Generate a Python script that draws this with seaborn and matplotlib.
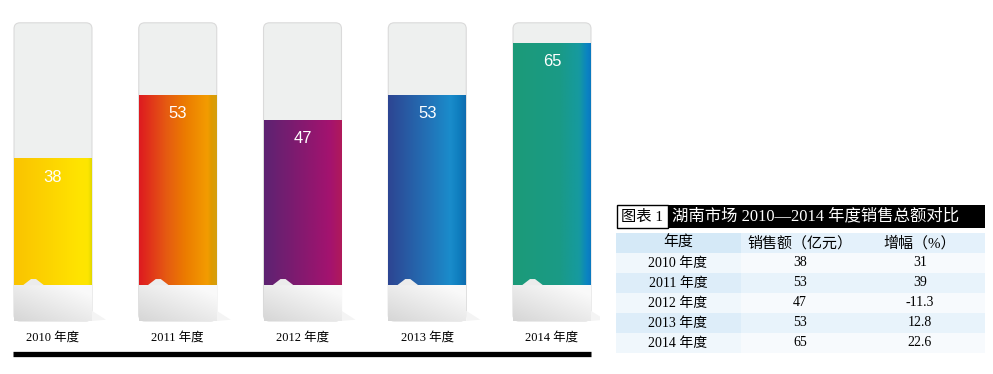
import numpy as np
import pandas as pd
import matplotlib.pyplot as plt
import seaborn as sns
from matplotlib.colors import LinearSegmentedColormap
from matplotlib.patches import FancyBboxPatch, Polygon, Rectangle

# data
years = ['2010 年度', '2011 年度', '2012 年度', '2013 年度', '2014 年度']
sales = [38, 53, 47, 53, 65]
growth = ['31', '39', '-11.3', '12.8', '22.6']
table_cols = ['年度', '销售额（亿元）', '增幅（%）']
title_tag = '图表 1'
title = '湖南市场 2010—2014 年度销售总额对比'

track_max = 70      # height of the grey "tube"
base_top = 8.4      # grey foot covers the bar up to here

# left -> right gradient of each bar
bar_stops = [
    [(0, '#fac300'), (0.5, '#fdd600'), (0.85, '#ffe400'), (0.95, '#fde600'), (1, '#e2d800')],
    [(0, '#de1a20'), (0.35, '#e55a12'), (0.6, '#ec7c00'), (0.88, '#f39c00'), (0.93, '#e09a00'), (1, '#d4a010')],
    [(0, '#5d2372'), (0.5, '#86196f'), (0.85, '#a4136f'), (1, '#b01a5a')],
    [(0, '#2d4592'), (0.5, '#2370b5'), (0.8, '#1a8ccb'), (0.9, '#1080c0'), (1, '#0f6cb0')],
    [(0, '#1c9b78'), (0.6, '#1a9a86'), (0.85, '#169aa0'), (0.95, '#0a84c2'), (1, '#0a78c0')],
]

serif_cjk = ['Liberation Serif', 'Noto Sans CJK SC']

df = pd.DataFrame({'year': years, 'sales': sales})

fig = plt.figure(figsize=(9.93, 3.74), dpi=100)
ax = fig.add_axes([0, 0, 600 / 993, 1])
sns.barplot(data=df, x='year', y='sales', width=0.625, color='white', ax=ax)

# pixel mapping: bar centers at 53 + 124.75*i, value 0 at row 321, 4.26 px/unit
xpx, ypx = 124.75, 4.26
xlim = (-53 / xpx, (600 - 53) / xpx)
ylim = (-(374 - 321) / ypx, 321 / ypx)

bars = list(ax.patches)
for i, p in enumerate(bars):
    x0, w, v = p.get_x(), p.get_width(), p.get_height()
    p.set_visible(False)

    # grey tube
    tube = FancyBboxPatch((x0, 0), w, track_max,
                          boxstyle='round,pad=0,rounding_size=%f' % (6 / xpx),
                          mutation_aspect=xpx / ypx,
                          fc='#eef0ef', ec='#dadada', lw=0.8, zorder=1)
    ax.add_patch(tube)

    # gradient fill
    cmap = LinearSegmentedColormap.from_list('g%d' % i, bar_stops[i])
    grad = np.linspace(0, 1, 256).reshape(1, -1)
    ax.imshow(grad, cmap=cmap, aspect='auto', interpolation='bilinear',
              extent=[x0, x0 + w, base_top, v], zorder=2)

    # foot of the tube, light grey to white
    gx, gy = np.meshgrid(np.linspace(0, 1, 64), np.linspace(0, 1, 32))
    shade = 0.84 + 0.14 * np.clip(0.55 * gx + 0.6 * gy, 0, 1)
    foot = np.dstack([shade, shade, shade])
    ax.imshow(foot, aspect='auto', interpolation='bilinear', origin='lower',
              extent=[x0, x0 + w, 0, base_top], zorder=3)
    # faint shadow on the right of the foot
    ax.add_patch(Polygon([(x0 + w, 0), (x0 + w + 14 / xpx, 0.3), (x0 + w, 2.4)],
                         closed=True, fc='#f4f4f4', ec='none', zorder=1))
    # notch
    ax.add_patch(Polygon([(x0 + 9 / xpx, base_top), (x0 + 17 / xpx, base_top + 1.45),
                          (x0 + 22 / xpx, base_top + 1.45), (x0 + 30 / xpx, base_top)],
                         closed=True, fc='#ececec', ec='none', zorder=3))

    ax.text(x0 + w / 2, v - 4.2, str(sales[i]), color='white', ha='center', va='center',
            fontsize=12, family='Liberation Sans', zorder=4)
    ax.text(x0 + w / 2, -4.0, years[i], ha='center', va='center', fontsize=9,
            family=serif_cjk, color='black', zorder=4)

ax.plot([(13 - 53) / xpx, (591 - 53) / xpx], [-7.85, -7.85], color='black', lw=3.8,
        solid_capstyle='butt', zorder=4)
ax.set_xlim(*xlim)
ax.set_ylim(*ylim)
ax.axis('off')

# table, drawn in pixel coordinates
tb = fig.add_axes([0, 0, 1, 1])
tb.set_xlim(0, 993)
tb.set_ylim(374, 0)
tb.axis('off')

tb.add_patch(Rectangle((616.5, 205), 51.5, 23, fc='white', ec='black', lw=1))
tb.add_patch(Rectangle((668, 205), 317, 23, fc='black', ec='none'))
tb.text(642, 216.5, title_tag, ha='center', va='center', fontsize=11, family=serif_cjk)
tb.text(672, 216.5, title, ha='left', va='center', fontsize=11.8, family=serif_cjk, color='white')

col_edges = [616, 741, 858, 985]
col_centers = [678, 800, 920]
row_top = 233
row_h = 20
fills = {
    'head': ('#d5e9f7', '#e4f1fb'),
    'odd': ('#f0f7fc', '#f7fafd'),
    'even': ('#ddedf9', '#e8f3fb'),
}
rows = [table_cols] + [[years[k], str(sales[k]), growth[k]] for k in range(len(years))]
for r, row in enumerate(rows):
    kind = 'head' if r == 0 else ('odd' if r % 2 == 1 else 'even')
    y0 = row_top + r * row_h
    for c in range(3):
        fc = fills[kind][0] if c == 0 else fills[kind][1]
        tb.add_patch(Rectangle((col_edges[c], y0), col_edges[c + 1] - col_edges[c], row_h,
                               fc=fc, ec='none'))
        tb.text(col_centers[c], y0 + row_h / 2, row[c], ha='center', va='center',
                fontsize=10.8 if r == 0 else 10, family=serif_cjk, color='black')

fig.savefig('out.png', dpi=100)
